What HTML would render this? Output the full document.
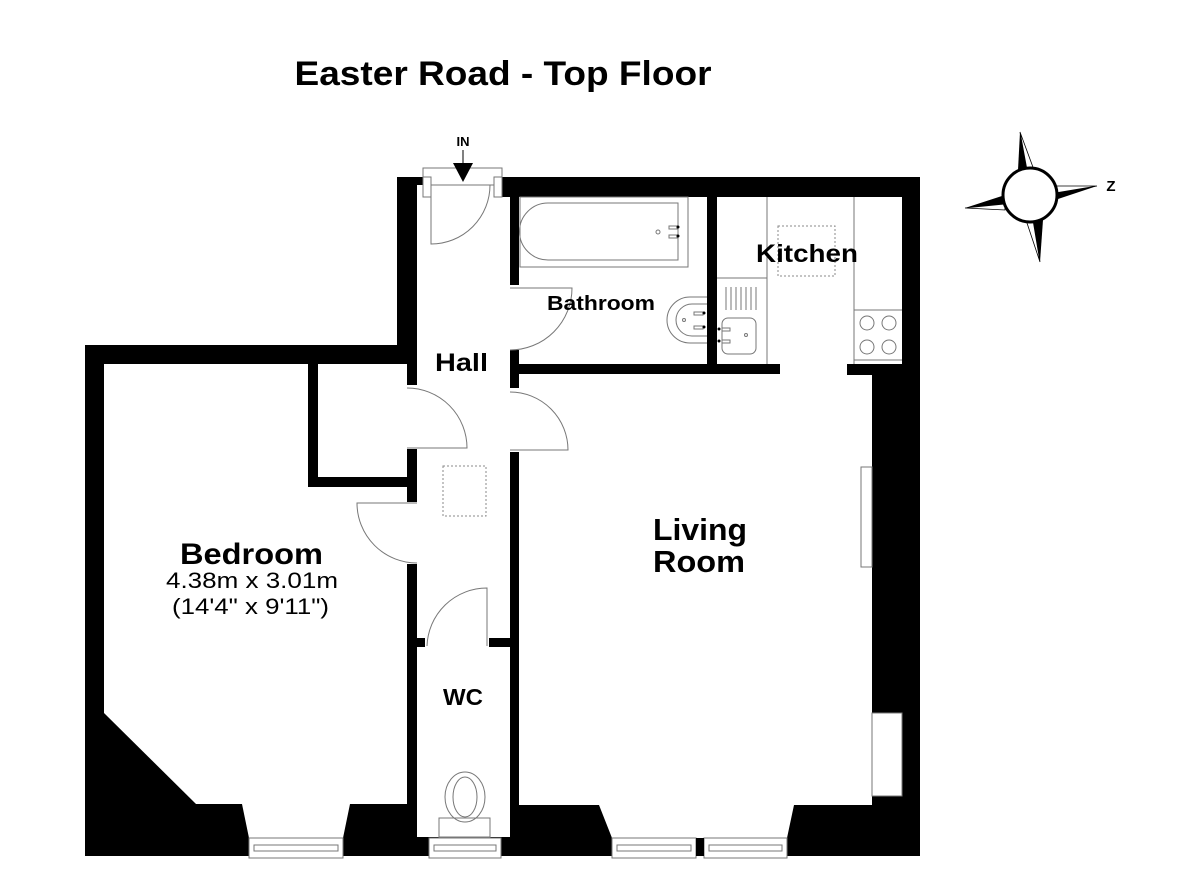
<!DOCTYPE html>
<html><head><meta charset="utf-8"><style>html,body{margin:0;padding:0;background:#fff}svg{display:block}</style></head><body>
<svg width="1200" height="872" viewBox="0 0 1200 872" xmlns="http://www.w3.org/2000/svg" font-family="Liberation Sans, Arial, sans-serif">
<rect width="1200" height="872" fill="#fff"/>
<text x="503" y="85" font-size="34" font-weight="bold" text-anchor="middle" textLength="417" lengthAdjust="spacingAndGlyphs">Easter Road - Top Floor</text>

<g fill="#000">
<rect x="397" y="177" width="26" height="8"/>
<rect x="397" y="177" width="20" height="187"/>
<rect x="502" y="177" width="418" height="20"/>
<rect x="902" y="177" width="18" height="200"/>
<rect x="510" y="197" width="9" height="88"/>
<rect x="510" y="350" width="9" height="38"/>
<rect x="707" y="197" width="10" height="170"/>
<rect x="510" y="364" width="270" height="10"/>
<rect x="847" y="364" width="73" height="11"/>
<rect x="872" y="364" width="48" height="492"/>
<rect x="85" y="345" width="332" height="19"/>
<rect x="85" y="345" width="19" height="511"/>
<rect x="407" y="345" width="10" height="40"/>
<rect x="407" y="449" width="10" height="53"/>
<rect x="407" y="564" width="10" height="292"/>
<rect x="308" y="364" width="10" height="123"/>
<rect x="308" y="477" width="100" height="10"/>
<rect x="510" y="452" width="9" height="404"/>
<rect x="417" y="638" width="8" height="9"/>
<rect x="489" y="638" width="21" height="9"/>
<polygon points="104,713 196,804 104,804"/>
<rect x="85" y="804" width="324" height="52"/>
<rect x="409" y="837" width="112" height="19"/>
<rect x="519" y="805" width="401" height="51"/>
</g>
<g fill="#fff">
<polygon points="242,804 350,804 343,838 249,838"/>
<polygon points="599,805 794,805 787,838 612,838"/>
<rect x="872" y="713" width="30" height="83" stroke="#777" stroke-width="1"/>
<rect x="861" y="467" width="11" height="100" stroke="#777" stroke-width="1"/>
</g>
<g fill="#fff" stroke="#777" stroke-width="1">
<rect x="249" y="838" width="94" height="20"/>
<rect x="254" y="845" width="84" height="6"/>
<rect x="429" y="838" width="72" height="20"/>
<rect x="434" y="845" width="62" height="6"/>
<rect x="612" y="838" width="84" height="20"/>
<rect x="617" y="845" width="74" height="6"/>
<rect x="704" y="838" width="83" height="20"/>
<rect x="709" y="845" width="73" height="6"/>
<rect x="423" y="168" width="79" height="17"/>
<rect x="423" y="177" width="8" height="20"/>
<rect x="494" y="177" width="8" height="20"/>
</g>
<rect x="696" y="838" width="8" height="18" fill="#000"/>

<g fill="none" stroke="#777" stroke-width="1">
<path d="M431,185 V244 A59,59 0 0 0 490,185"/>
<path d="M510,288 H572 A62,62 0 0 1 510,350"/>
<path d="M407,388 A60,60 0 0 1 467,448 H407"/>
<path d="M510,392 A58,58 0 0 1 568,450 H510"/>
<path d="M417,503 H357 A60,60 0 0 0 417,563"/>
<path d="M487,646 V588 A60,60 0 0 0 427,646"/>
<rect x="520" y="197" width="168" height="70"/>
<path d="M548,203 H678 V260 H548 A28.5,28.5 0 0 1 548,203 Z"/>
<circle cx="658" cy="232" r="2"/>
<rect x="669" y="226" width="8" height="3"/><rect x="669" y="235" width="8" height="3"/>
<path d="M707,297 H690 A23,23 0 0 0 690,343 H707"/>
<path d="M707,304 H692 A16,16 0 0 0 692,336 H707"/>
<circle cx="684" cy="320" r="1.5"/>
<rect x="694" y="312" width="9" height="3"/><rect x="694" y="326" width="9" height="3"/>
<path d="M717,278 H767 M767,197 V364"/>
<path d="M726,287 V310 M731,287 V310 M736,287 V310 M741,287 V310 M746,287 V310 M751,287 V310 M756,287 V310"/>
<rect x="722" y="318" width="34" height="36" rx="6"/>
<circle cx="746" cy="335" r="1.5"/>
<rect x="722" y="328" width="8" height="3"/><rect x="722" y="340" width="8" height="3"/>
<path d="M854,197 V364 M854,310 H902 M854,360 H902"/>
<circle cx="867" cy="323" r="7"/><circle cx="889" cy="323" r="7"/>
<circle cx="867" cy="347" r="7"/><circle cx="889" cy="347" r="7"/>
<ellipse cx="465" cy="797" rx="20" ry="25"/>
<ellipse cx="465" cy="797" rx="12" ry="20"/>
<rect x="439" y="818" width="51" height="19"/>
</g>
<circle cx="719" cy="329" r="1.5" fill="#000"/><circle cx="719" cy="341" r="1.5" fill="#000"/>
<circle cx="678" cy="227" r="1.5" fill="#000"/><circle cx="678" cy="236" r="1.5" fill="#000"/>
<circle cx="704" cy="313" r="1.5" fill="#000"/><circle cx="704" cy="327" r="1.5" fill="#000"/>
<g fill="none" stroke="#888" stroke-width="1" stroke-dasharray="2,2">
<rect x="778" y="226" width="57" height="50"/>
<rect x="443" y="466" width="43" height="50"/>
</g>

<text x="463" y="146" font-size="13" font-weight="bold" text-anchor="middle">IN</text>
<line x1="463" y1="150" x2="463" y2="166" stroke="#000" stroke-width="1"/>
<polygon points="453,163 473,163 463,182" fill="#000"/>

<g font-weight="bold" lengthAdjust="spacingAndGlyphs">
<text x="435" y="371" font-size="25" textLength="53" lengthAdjust="spacingAndGlyphs">Hall</text>
<text x="547" y="310" font-size="20" textLength="108" lengthAdjust="spacingAndGlyphs">Bathroom</text>
<text x="756" y="262" font-size="25" textLength="102" lengthAdjust="spacingAndGlyphs">Kitchen</text>
<text x="180" y="564" font-size="30" textLength="143" lengthAdjust="spacingAndGlyphs">Bedroom</text>
<text x="653" y="540" font-size="31" textLength="94" lengthAdjust="spacingAndGlyphs">Living</text>
<text x="653" y="572" font-size="31" textLength="92" lengthAdjust="spacingAndGlyphs">Room</text>
<text x="443" y="705" font-size="23" textLength="40" lengthAdjust="spacingAndGlyphs">WC</text>
</g>
<text x="166" y="588" font-size="22" textLength="172" lengthAdjust="spacingAndGlyphs">4.38m x 3.01m</text>
<text x="172" y="614" font-size="22" textLength="157" lengthAdjust="spacingAndGlyphs">(14'4" x 9'11")</text>

<g>
<polygon points="1020,132 1027,170 1018,170" fill="#000"/>
<polygon points="1020,132 1034,170 1027,170" fill="#fff" stroke="#000" stroke-width="0.8"/>
<polygon points="1040,262 1033,220 1043,220" fill="#000"/>
<polygon points="1040,262 1026,220 1033,220" fill="#fff" stroke="#000" stroke-width="0.8"/>
<polygon points="965,208 1005,195 1005,204" fill="#000"/>
<polygon points="965,208 1005,204 1005,210" fill="#fff" stroke="#000" stroke-width="0.8"/>
<polygon points="1097,186 1055,193 1055,200" fill="#000"/>
<polygon points="1097,186 1055,186 1055,193" fill="#fff" stroke="#000" stroke-width="0.8"/>
<circle cx="1030" cy="195" r="27" fill="#fff" stroke="#000" stroke-width="3"/>
<text x="1111" y="191" font-size="15" font-weight="bold" text-anchor="middle">Z</text>
</g>
</svg>
</body></html>
